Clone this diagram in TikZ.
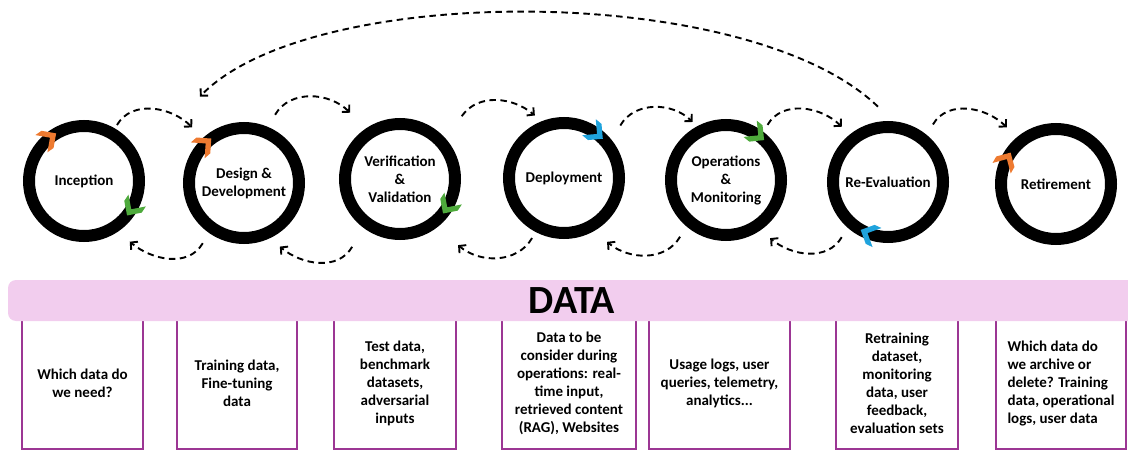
\documentclass[tikz,border=0pt]{standalone}
\usepackage{fontspec}
\setmainfont{Carlito}
\usetikzlibrary{calc,arrows.meta}
\definecolor{ringorange}{HTML}{EE7A30}
\definecolor{ringgreen}{HTML}{4EAA3C}
\definecolor{ringblue}{HTML}{1FA3DD}
\definecolor{barpink}{HTML}{F2CDEE}
\definecolor{boxpurple}{HTML}{9C3694}
\tikzset{
  ring/.style={circle, draw=black, line width=12pt, minimum size=110pt, inner sep=0pt,
    align=center, font=\fontsize{15}{18}\selectfont\bfseries},
  flow/.style={line width=1.9pt, dash pattern=on 6.5pt off 4.5pt,
    -{Straight Barb[length=5pt,width=10.5pt]}},
  databox/.style={draw=boxpurple, line width=2pt, minimum height=131pt, inner sep=2pt,
    align=center, font=\fontsize{15}{18}\selectfont\bfseries},
  databar/.style={fill=barpink, rounded corners=8pt, minimum width=1128pt,
    minimum height=41pt, inner sep=0pt, font=\fontsize{40}{40}\selectfont\bfseries},
  pics/chev/.style={code={\fill[#1] (-6,10.5) -- (4.5,0) -- (-6,-10.5) -- (-13.5,-10.5) -- (-3,0) -- (-13.5,10.5) -- cycle;}}
}
\begin{document}
\begin{tikzpicture}[x=1pt,y=1pt]
\useasboundingbox (0,0) rectangle (1128,451);

% lifecycle stages
\node[ring] (c1) at (84,270) {Inception};
\node[ring] (c2) at (244,268) {Design \&\\Development};
\node[ring] (c3) at (400,272) {Verification\\\&\\Validation};
\node[ring] (c4) at (564,273) {Deployment};
\node[ring] (c5) at (726,271) {Operations\\\&\\Monitoring};
\node[ring] (c6) at (888,269) {Re-Evaluation};
\node[ring] (c7) at (1056,267) {Retirement};

% direction markers on the rings
\pic[rotate=35]   at ($(c1.center)+(125:55)$) {chev=ringorange};
\pic[rotate=-124] at ($(c1.center)+(-34:55)$) {chev=ringgreen};
\pic[rotate=41]   at ($(c2.center)+(131:55)$) {chev=ringorange};
\pic[rotate=-124] at ($(c3.center)+(-34:55)$) {chev=ringgreen};
\pic[rotate=-40]  at ($(c4.center)+(50:55)$)  {chev=ringblue};
\pic[rotate=-39]  at ($(c5.center)+(51:55)$)  {chev=ringgreen};
\pic[rotate=-205] at ($(c6.center)+(-115:55)$) {chev=ringblue};
\pic[rotate=60]   at ($(c7.center)+(150:55)$) {chev=ringorange};

% forward transitions
\draw[flow] ($(c1.center)+(59.5:65)$) to[out=60,in=135] ($(c2.center)+(133:76)$);
\draw[flow] ($(c2.center)+(65.5:75)$) to[out=60,in=135] ($(c3.center)+(127:83)$);
\draw[flow] ($(c3.center)+(45.5:88)$) to[out=55,in=140] ($(c4.center)+(115:69)$);
\draw[flow] ($(c4.center)+(43:77)$)   to[out=60,in=135] ($(c5.center)+(120:67)$);
\draw[flow] ($(c5.center)+(53:69)$)   to[out=60,in=135] ($(c6.center)+(130:72)$);
\draw[flow] ($(c6.center)+(52:73)$)   to[out=60,in=135] ($(c7.center)+(131:75)$);

% backward transitions
\draw[flow] ($(c2.center)+(235.6:73)$) to[out=240,in=-40] ($(c1.center)+(-53:76)$);
\draw[flow] ($(c3.center)+(234.8:83)$) to[out=240,in=-40] ($(c2.center)+(-60.6:73)$);
\draw[flow] ($(c4.center)+(242:68)$)   to[out=240,in=-40] ($(c3.center)+(-48.7:88)$);
\draw[flow] ($(c5.center)+(231:73)$)   to[out=240,in=-40] ($(c4.center)+(-56:77)$);
\draw[flow] ($(c6.center)+(230:72)$)   to[out=240,in=-40] ($(c5.center)+(-52.8:73)$);

% loop back from re-evaluation to design
\draw[flow] ($(c6.center)+(97.6:76)$) to[out=136,in=46,out distance=180pt,in distance=159pt] ($(c2.center)+(117:97)$);

% data needs per stage
\node[databox, minimum width=121pt] (b1) at (82.5,67.5) {Which data do\\we need?};
\node[databox, minimum width=120pt] (b2) at (237,67.5) {Training data,\\Fine-tuning\\data};
\node[databox, minimum width=122pt] (b3) at (395,67.5) {Test data,\\benchmark\\datasets,\\adversarial\\inputs};
\node[databox, minimum width=134pt] (b4) at (569,67.5) {Data to be\\consider during\\operations: real-\\time input,\\retrieved content\\(RAG), Websites};
\node[databox, minimum width=141pt] (b5) at (719.5,67.5) {Usage logs, user\\queries, telemetry,\\analytics...};
\node[databox, minimum width=122pt] (b6) at (897,67.5) {Retraining\\dataset,\\monitoring\\data, user\\feedback,\\evaluation sets};
\node[databox, minimum width=130pt, align=left] (b7) at (1061,67.5) {Which data do\\we archive or\\delete? Training\\data, operational\\logs, user data};

% data band
\node[databar] (data) at (572,150.5) {DATA};
\end{tikzpicture}
\end{document}
